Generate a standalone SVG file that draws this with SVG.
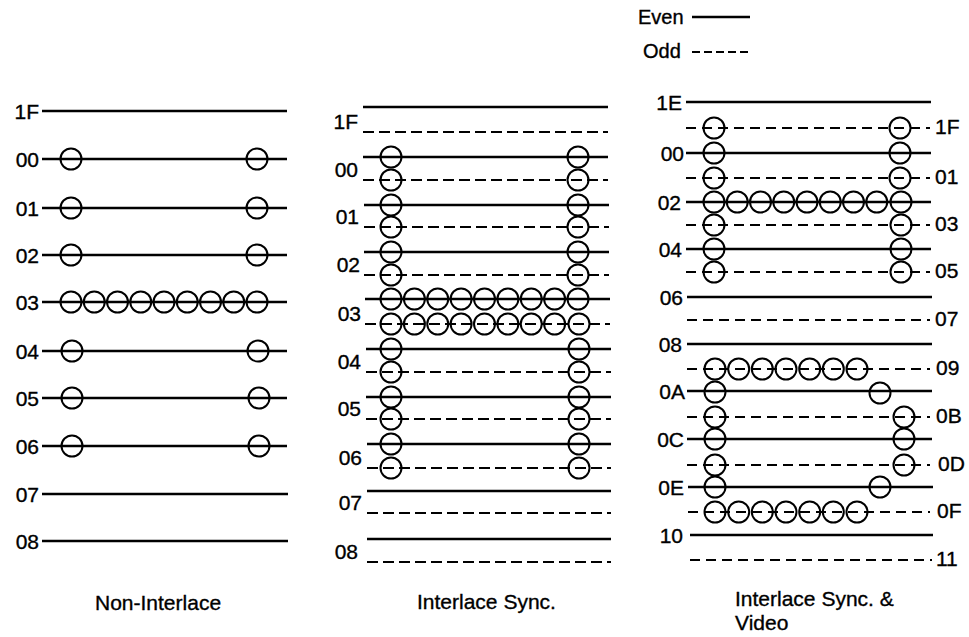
<svg xmlns="http://www.w3.org/2000/svg" width="969" height="637" viewBox="0 0 969 637">
<style>
text{font-family:"Liberation Sans",Arial,sans-serif;font-size:21px;fill:#000;stroke:#000;stroke-width:0.35}
.e{text-anchor:end}
.s{stroke:#000;stroke-width:2.5;fill:none}
.d{stroke:#000;stroke-width:2.2;fill:none;stroke-dasharray:11 5}
.d2{stroke:#000;stroke-width:2.2;fill:none;stroke-dasharray:10 6}
.c{stroke:#000;stroke-width:2;fill:none}
</style>
<rect width="969" height="637" fill="#fff"/>

<g id="legend">
<text x="638" y="24" style="font-size:20px">Even</text>
<line class="s" x1="692" y1="17" x2="750" y2="17"/>
<text x="643" y="58" style="font-size:20px">Odd</text>
<line class="d" x1="692" y1="52" x2="750" y2="52" style="stroke-dasharray:8 4"/>
</g>

<g id="non-interlace">
<g id="ni-lines">
<line class="s" x1="42" y1="111" x2="287" y2="111"/>
<line class="s" x1="42" y1="159" x2="287" y2="159"/>
<line class="s" x1="42" y1="208" x2="287" y2="208"/>
<line class="s" x1="42" y1="255" x2="287" y2="255"/>
<line class="s" x1="42" y1="302" x2="287" y2="302"/>
<line class="s" x1="42" y1="351" x2="287" y2="351"/>
<line class="s" x1="42" y1="398" x2="287" y2="398"/>
<line class="s" x1="42" y1="446" x2="287" y2="446"/>
<line class="s" x1="42" y1="494" x2="288" y2="494"/>
<line class="s" x1="42" y1="541" x2="288" y2="541"/>
</g>
<g id="ni-labels">
<text class="e" x="39" y="118.5">1F</text>
<text class="e" x="39" y="166.5">00</text>
<text class="e" x="39" y="215.5">01</text>
<text class="e" x="39" y="262.5">02</text>
<text class="e" x="39" y="309.5">03</text>
<text class="e" x="39" y="358.5">04</text>
<text class="e" x="39" y="405.5">05</text>
<text class="e" x="39" y="453.5">06</text>
<text class="e" x="39" y="501.5">07</text>
<text class="e" x="39" y="548.5">08</text>
</g>
<g id="ni-circles">
<circle class="c" cx="71" cy="159" r="10.5"/><circle class="c" cx="257" cy="159" r="10.5"/>
<circle class="c" cx="71" cy="208" r="10.5"/><circle class="c" cx="257" cy="208" r="10.5"/>
<circle class="c" cx="71" cy="255" r="10.5"/><circle class="c" cx="257" cy="255" r="10.5"/>
<circle class="c" cx="71" cy="302" r="10.5"/><circle class="c" cx="94.25" cy="302" r="10.5"/><circle class="c" cx="117.5" cy="302" r="10.5"/><circle class="c" cx="140.75" cy="302" r="10.5"/><circle class="c" cx="164" cy="302" r="10.5"/><circle class="c" cx="187.25" cy="302" r="10.5"/><circle class="c" cx="210.5" cy="302" r="10.5"/><circle class="c" cx="233.75" cy="302" r="10.5"/><circle class="c" cx="257" cy="302" r="10.5"/>
<circle class="c" cx="72" cy="351" r="10.5"/><circle class="c" cx="258" cy="351" r="10.5"/>
<circle class="c" cx="72" cy="398" r="10.5"/><circle class="c" cx="259" cy="398" r="10.5"/>
<circle class="c" cx="72" cy="446" r="10.5"/><circle class="c" cx="259" cy="446" r="10.5"/>
</g>
<text x="95" y="610">Non-Interlace</text>
</g>

<g id="interlace-sync">
<g id="is-lines">
<line class="s" x1="363" y1="107" x2="608" y2="107"/>
<line class="d" x1="363" y1="132" x2="608" y2="132"/>
<line class="s" x1="363" y1="157" x2="608" y2="157"/>
<line class="d" x1="363" y1="180" x2="608" y2="180"/>
<line class="s" x1="364" y1="205" x2="609" y2="205"/>
<line class="d" x1="364" y1="227" x2="609" y2="227"/>
<line class="s" x1="364" y1="252" x2="609" y2="252"/>
<line class="d" x1="364" y1="275" x2="609" y2="275"/>
<line class="s" x1="365" y1="299" x2="610" y2="299"/>
<line class="d" x1="365" y1="324" x2="610" y2="324"/>
<line class="s" x1="366" y1="349" x2="611" y2="349"/>
<line class="d" x1="366" y1="372" x2="611" y2="372"/>
<line class="s" x1="366" y1="397" x2="611" y2="397"/>
<line class="d" x1="366" y1="419" x2="611" y2="419"/>
<line class="s" x1="367" y1="444" x2="611" y2="444"/>
<line class="d" x1="367" y1="468" x2="611" y2="468"/>
<line class="s" x1="367" y1="491" x2="611" y2="491"/>
<line class="d" x1="367" y1="513" x2="611" y2="513"/>
<line class="s" x1="367" y1="539" x2="611" y2="539"/>
<line class="d" x1="367" y1="562" x2="611" y2="562"/>
</g>
<g id="is-labels">
<text class="e" x="358" y="128.5">1F</text>
<text class="e" x="358" y="176.5">00</text>
<text class="e" x="359" y="223.5">01</text>
<text class="e" x="360" y="271.5">02</text>
<text class="e" x="361" y="320.5">03</text>
<text class="e" x="361" y="368.5">04</text>
<text class="e" x="361" y="415.5">05</text>
<text class="e" x="362" y="464.5">06</text>
<text class="e" x="362" y="509.5">07</text>
<text class="e" x="358" y="558.5">08</text>
</g>
<g id="is-circles">
<circle class="c" cx="391" cy="157" r="10.5"/><circle class="c" cx="391" cy="180" r="10.5"/><circle class="c" cx="391" cy="205" r="10.5"/><circle class="c" cx="391" cy="227" r="10.5"/><circle class="c" cx="391" cy="252" r="10.5"/><circle class="c" cx="391" cy="275" r="10.5"/><circle class="c" cx="391" cy="299" r="10.5"/><circle class="c" cx="391" cy="324" r="10.5"/><circle class="c" cx="391" cy="349" r="10.5"/><circle class="c" cx="391" cy="372" r="10.5"/><circle class="c" cx="391" cy="397" r="10.5"/><circle class="c" cx="391" cy="419" r="10.5"/><circle class="c" cx="391" cy="444" r="10.5"/><circle class="c" cx="391" cy="468" r="10.5"/>
<circle class="c" cx="578" cy="157" r="10.5"/><circle class="c" cx="578" cy="180" r="10.5"/><circle class="c" cx="578" cy="205" r="10.5"/><circle class="c" cx="578" cy="227" r="10.5"/><circle class="c" cx="578" cy="252" r="10.5"/><circle class="c" cx="578" cy="275" r="10.5"/><circle class="c" cx="578" cy="299" r="10.5"/><circle class="c" cx="579" cy="324" r="10.5"/><circle class="c" cx="579" cy="349" r="10.5"/><circle class="c" cx="579" cy="372" r="10.5"/><circle class="c" cx="579" cy="397" r="10.5"/><circle class="c" cx="579" cy="419" r="10.5"/><circle class="c" cx="579" cy="444" r="10.5"/><circle class="c" cx="579" cy="468" r="10.5"/>
<circle class="c" cx="414.4" cy="299" r="10.5"/><circle class="c" cx="437.75" cy="299" r="10.5"/><circle class="c" cx="461.1" cy="299" r="10.5"/><circle class="c" cx="484.5" cy="299" r="10.5"/><circle class="c" cx="507.9" cy="299" r="10.5"/><circle class="c" cx="531.25" cy="299" r="10.5"/><circle class="c" cx="554.6" cy="299" r="10.5"/>
<circle class="c" cx="414.4" cy="324" r="10.5"/><circle class="c" cx="437.75" cy="324" r="10.5"/><circle class="c" cx="461.1" cy="324" r="10.5"/><circle class="c" cx="484.5" cy="324" r="10.5"/><circle class="c" cx="507.9" cy="324" r="10.5"/><circle class="c" cx="531.25" cy="324" r="10.5"/><circle class="c" cx="554.6" cy="324" r="10.5"/>
</g>
<text x="417" y="609">Interlace Sync.</text>
</g>

<g id="interlace-sync-video">
<g id="isv-lines">
<line class="s" x1="686" y1="102" x2="931" y2="102"/>
<line class="d2" x1="686" y1="128" x2="930" y2="128"/>
<line class="s" x1="686" y1="153" x2="931" y2="153"/>
<line class="d2" x1="686" y1="178" x2="930" y2="178"/>
<line class="s" x1="686" y1="202" x2="931" y2="202"/>
<line class="d2" x1="686" y1="225" x2="930" y2="225"/>
<line class="s" x1="686" y1="249" x2="931" y2="249"/>
<line class="d2" x1="686" y1="272" x2="930" y2="272"/>
<line class="s" x1="687" y1="297" x2="932" y2="297"/>
<line class="d2" x1="687" y1="320" x2="930" y2="320"/>
<line class="s" x1="687" y1="344" x2="932" y2="344"/>
<line class="d2" x1="687" y1="369" x2="930" y2="369"/>
<line class="s" x1="687" y1="391" x2="932" y2="391"/>
<line class="d2" x1="687" y1="417" x2="930" y2="417"/>
<line class="s" x1="687" y1="439" x2="932" y2="439"/>
<line class="d2" x1="687" y1="465" x2="930" y2="465"/>
<line class="s" x1="688" y1="487" x2="933" y2="487"/>
<line class="d2" x1="688" y1="512" x2="930" y2="512"/>
<line class="s" x1="690" y1="535" x2="933" y2="535"/>
<line class="d2" x1="690" y1="560" x2="932" y2="560"/>
</g>
<g id="isv-labels">
<text class="e" x="682" y="110">1E</text>
<text x="935" y="134">1F</text>
<text class="e" x="684" y="161">00</text>
<text x="935" y="184">01</text>
<text class="e" x="681" y="210">02</text>
<text x="935" y="231">03</text>
<text class="e" x="682" y="257">04</text>
<text x="935" y="278">05</text>
<text class="e" x="683" y="305">06</text>
<text x="935" y="326">07</text>
<text class="e" x="682" y="352">08</text>
<text x="936" y="375">09</text>
<text class="e" x="685" y="399">0A</text>
<text x="936" y="423">0B</text>
<text class="e" x="684" y="447">0C</text>
<text x="938" y="471">0D</text>
<text class="e" x="684" y="495">0E</text>
<text x="937" y="518">0F</text>
<text class="e" x="683" y="543">10</text>
<text x="936" y="566">11</text>
</g>
<g id="isv-circles">
<circle class="c" cx="714" cy="128" r="10.5"/><circle class="c" cx="714" cy="153" r="10.5"/><circle class="c" cx="714" cy="178" r="10.5"/><circle class="c" cx="714" cy="202" r="10.5"/><circle class="c" cx="714" cy="225" r="10.5"/><circle class="c" cx="714" cy="249" r="10.5"/><circle class="c" cx="714" cy="272" r="10.5"/>
<circle class="c" cx="900" cy="128" r="10.5"/><circle class="c" cx="900" cy="153" r="10.5"/><circle class="c" cx="900" cy="178" r="10.5"/><circle class="c" cx="901" cy="202" r="10.5"/><circle class="c" cx="901" cy="225" r="10.5"/><circle class="c" cx="901" cy="249" r="10.5"/><circle class="c" cx="901" cy="272" r="10.5"/>
<circle class="c" cx="737.25" cy="202" r="10.5"/><circle class="c" cx="760.5" cy="202" r="10.5"/><circle class="c" cx="783.75" cy="202" r="10.5"/><circle class="c" cx="807" cy="202" r="10.5"/><circle class="c" cx="830.25" cy="202" r="10.5"/><circle class="c" cx="853.5" cy="202" r="10.5"/><circle class="c" cx="876.75" cy="202" r="10.5"/>
<circle class="c" cx="715" cy="369" r="10.5"/><circle class="c" cx="715" cy="392" r="10.5"/><circle class="c" cx="715" cy="417" r="10.5"/><circle class="c" cx="715" cy="439" r="10.5"/><circle class="c" cx="715" cy="465" r="10.5"/><circle class="c" cx="715" cy="487" r="10.5"/><circle class="c" cx="715" cy="512" r="10.5"/>
<circle class="c" cx="738.7" cy="369" r="10.5"/><circle class="c" cx="762.3" cy="369" r="10.5"/><circle class="c" cx="786" cy="369" r="10.5"/><circle class="c" cx="809.7" cy="369" r="10.5"/><circle class="c" cx="833.3" cy="369" r="10.5"/><circle class="c" cx="857" cy="369" r="10.5"/>
<circle class="c" cx="880" cy="393" r="10.5"/>
<circle class="c" cx="904" cy="417" r="10.5"/><circle class="c" cx="904" cy="439" r="10.5"/><circle class="c" cx="904" cy="465" r="10.5"/>
<circle class="c" cx="880" cy="487" r="10.5"/>
<circle class="c" cx="738.7" cy="512" r="10.5"/><circle class="c" cx="762.3" cy="512" r="10.5"/><circle class="c" cx="786" cy="512" r="10.5"/><circle class="c" cx="809.7" cy="512" r="10.5"/><circle class="c" cx="833.3" cy="512" r="10.5"/><circle class="c" cx="857" cy="512" r="10.5"/>
</g>
<text x="735" y="606">Interlace Sync. &amp;</text>
<text x="735" y="630">Video</text>
</g>
</svg>
